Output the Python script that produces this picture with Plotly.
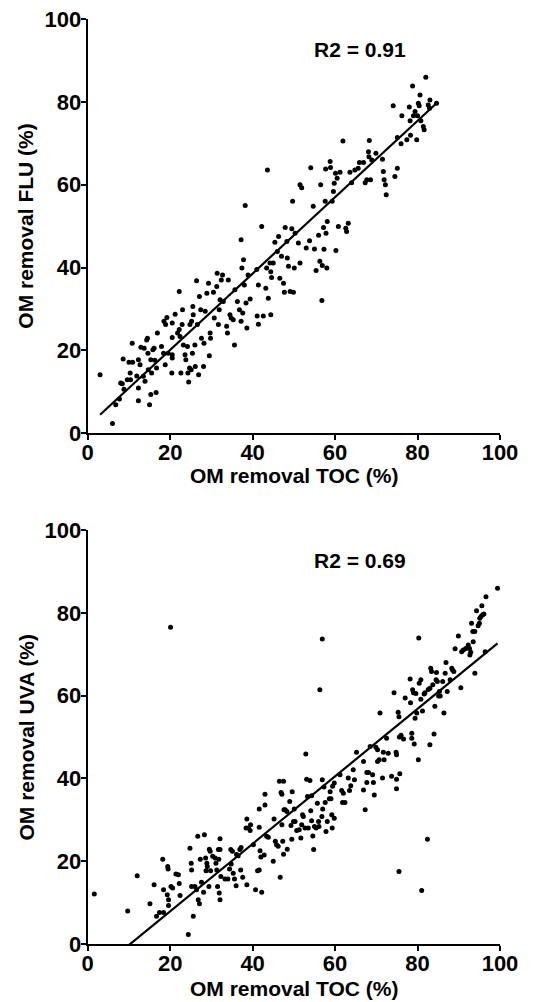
import plotly.graph_objects as go

# ---- Panel 1: TOC vs FLU ----
toc1 = [3.0,6.0,6.8,7.7,8.0,8.4,8.6,8.8,9.6,10.0,10.3,10.4,10.8,10.9,11.9,12.3,12.3,12.3,12.7,12.9,
        13.5,13.7,13.9,14.3,14.5,14.6,14.7,15.0,15.3,15.3,15.5,15.8,16.1,16.3,16.6,16.7,16.9,17.9,18.4,18.5,
        18.8,18.9,19.2,19.5,20.4,20.5,20.5,20.5,20.5,21.2,21.8,22.2,22.2,22.4,22.6,22.9,23.0,23.2,23.6,23.8,
        24.2,24.3,24.5,24.7,24.8,25.1,25.2,25.4,25.5,25.6,26.0,26.1,26.4,26.6,26.9,27.1,27.4,27.6,28.1,28.2,
        28.5,28.9,29.3,29.5,29.7,29.8,30.5,30.7,31.3,31.4,31.7,31.9,32.1,32.4,32.7,32.9,33.7,33.9,34.1,34.5,
        34.8,35.3,35.6,35.7,36.3,36.8,37.2,37.2,37.4,37.6,37.8,38.0,38.2,38.4,38.6,38.9,39.4,41.0,41.1,41.4,
        41.4,42.2,42.6,43.2,43.4,43.6,43.8,44.2,44.4,44.4,44.6,45.0,45.4,46.0,46.3,46.6,47.0,47.5,47.7,47.9,
        48.3,48.4,48.7,49.1,49.5,49.7,49.9,50.1,50.3,51.1,51.5,51.9,51.5,53.0,53.8,54.1,54.7,55.0,55.4,56.0,
        56.3,56.5,56.8,56.9,57.2,57.3,57.6,57.7,57.8,58.0,58.1,58.8,58.9,59.3,59.6,59.8,60.1,60.5,60.2,60.8,
        61.2,61.9,62.6,62.8,63.2,63.6,64.0,64.8,65.6,65.9,66.9,67.3,67.7,68.1,68.2,68.3,68.6,68.9,69.9,71.5,
        71.7,71.9,72.2,72.4,74.1,74.5,75.1,75.1,76.0,76.2,77.4,78.0,78.2,78.3,78.8,79.0,79.4,79.8,80.0,80.2,
        80.4,80.6,80.8,81.4,81.6,82.0,82.6,82.9,83.0,84.6]
flu1 = [14.1,2.3,6.8,8.2,12.1,11.9,17.9,10.6,12.9,17.1,14.5,12.9,21.7,17.1,13.8,10.9,7.8,17.7,16.5,20.7,
        13.7,20.5,12.5,22.5,22.9,19.3,15.3,6.8,9.3,17.7,14.5,20.1,20.5,17.6,9.8,15.7,24.2,20.9,19.3,27.0,
        16.5,26.2,27.9,19.3,14.5,23.1,26.6,18.1,18.9,28.7,24.2,34.2,25.0,23.3,14.5,26.2,29.8,21.3,18.9,17.7,
        20.9,14.5,12.3,15.7,26.2,15.3,27.0,19.3,30.6,28.6,21.3,16.1,36.8,26.2,14.1,33.0,29.8,22.9,16.1,21.7,
        29.4,33.8,36.2,18.7,24.2,22.9,34.0,27.8,35.4,38.6,26.2,29.8,32.2,37.0,38.2,31.8,25.8,24.2,37.0,28.6,
        27.8,27.4,21.3,34.6,31.8,29.8,27.0,46.7,39.9,29.0,41.9,35.8,55.0,31.4,25.4,38.2,32.4,39.5,28.3,26.3,
        35.8,49.9,28.3,35.0,39.9,63.6,32.6,41.1,39.0,28.6,37.6,41.1,46.1,43.9,47.5,37.4,42.7,36.2,34.0,49.7,
        46.3,42.3,40.3,34.2,49.4,56.0,34.0,39.9,48.3,45.9,60.0,59.3,41.1,44.7,46.5,64.1,54.8,44.5,39.3,47.8,
        41.5,60.0,32.0,40.5,49.7,44.4,56.0,63.8,48.3,39.9,51.1,65.6,64.2,56.0,58.4,60.4,62.8,61.6,44.1,49.9,
        63.0,70.6,49.5,48.7,50.7,63.0,60.5,63.6,64.0,65.4,65.4,60.5,61.2,68.0,66.8,70.7,61.2,66.0,67.6,66.2,
        63.2,61.2,60.0,57.6,79.1,62.0,64.0,71.4,69.9,76.7,70.9,78.8,75.5,72.0,83.9,76.7,77.7,70.9,76.7,79.7,
        79.1,81.7,75.5,74.1,73.3,86.0,79.3,78.5,80.5,79.7]
fit1 = {"slope": 0.923, "intercept": 1.63}
r2_label1 = "R2 = 0.91"

# ---- Panel 2: TOC vs UVA ----
toc2 = [1.6,9.7,12.0,15.1,16.1,16.7,17.4,18.4,18.2,18.4,19.3,19.4,19.5,19.6,19.6,20.1,20.2,20.6,21.4,22.0,
        22.4,22.2,24.4,24.8,25.1,25.2,25.2,25.6,26.0,26.4,26.7,26.8,27.1,27.3,27.6,28.1,28.3,28.6,28.7,28.9,
        29.0,29.4,29.5,29.7,29.8,30.3,30.9,31.1,31.3,31.5,31.7,32.1,31.8,31.9,32.1,32.1,32.3,33.3,34.0,34.4,
        34.7,35.1,34.8,35.3,35.6,36.0,36.1,36.5,36.9,37.2,37.1,37.6,38.4,38.6,38.6,39.0,39.4,39.5,40.2,40.7,
        41.2,41.6,41.6,41.6,41.8,42.0,42.2,42.8,43.0,43.0,43.4,43.8,45.0,45.2,45.5,45.8,46.2,46.5,47.5,46.7,
        46.9,47.1,47.1,47.3,47.5,47.6,47.9,48.3,48.4,49.0,49.3,49.5,49.6,49.9,50.3,50.1,50.7,51.3,51.7,51.9,
        52.3,52.1,52.7,52.9,53.1,53.3,53.5,53.9,54.1,54.3,54.3,54.6,54.8,55.0,55.4,55.7,56.0,56.1,56.3,56.8,
        56.9,56.9,57.0,57.3,57.6,57.8,58.1,58.6,59.0,58.8,59.2,59.3,59.4,59.8,59.8,61.2,61.6,61.8,62.4,62.0,
        63.2,63.5,63.8,64.4,64.7,65.2,66.9,66.9,67.3,67.7,68.1,67.7,68.5,69.1,69.3,69.5,69.9,70.3,70.3,70.7,
        70.9,71.5,71.7,71.9,72.5,72.9,73.7,74.3,74.8,74.9,74.9,74.9,75.3,75.5,75.5,75.6,75.7,76.0,76.6,77.0,
        78.2,78.3,78.6,78.6,78.8,79.0,79.2,79.4,79.6,79.8,80.2,80.3,80.4,80.8,80.8,81.0,81.2,81.6,81.8,82.4,
        82.6,83.0,83.0,83.2,83.4,83.7,84.0,84.2,84.5,84.8,84.6,85.1,85.5,85.3,86.1,86.4,86.7,86.9,87.2,87.9,
        88.3,88.5,88.8,89.1,89.9,90.5,90.7,91.1,91.7,92.3,92.6,92.7,92.9,93.1,93.4,93.5,93.9,93.9,94.3,94.7,
        95.0,95.1,95.4,95.6,95.8,96.1,96.4,96.6,99.4]
uva2 = [12.1,8.0,16.5,9.7,14.3,6.7,7.6,7.6,20.5,13.1,11.9,18.7,18.1,10.7,9.3,76.5,13.9,13.5,16.9,16.7,
        11.7,14.6,2.3,23.1,19.5,17.9,13.9,6.7,13.9,13.1,26.0,10.7,9.7,20.5,14.9,12.5,26.4,20.8,17.7,19.5,
        18.7,13.9,22.9,22.4,17.7,21.2,20.8,19.5,17.9,13.9,22.8,22.8,20.5,12.3,10.7,25.4,16.3,15.7,15.7,18.1,
        22.8,22.4,19.3,17.1,15.7,14.1,21.6,21.3,22.8,23.3,17.9,16.1,28.0,30.2,14.3,28.0,27.4,28.8,24.0,13.1,
        17.7,17.9,32.6,28.2,22.5,21.0,12.5,21.5,36.2,33.6,26.0,25.8,20.0,30.2,24.8,24.0,23.6,39.3,39.3,16.1,
        36.6,36.2,28.8,24.8,21.7,32.4,32.4,32.0,22.9,34.4,28.6,25.3,36.8,29.6,29.6,32.6,27.4,27.6,25.6,28.8,
        30.8,31.2,28.0,45.9,39.8,35.6,28.0,39.5,32.2,35.8,29.8,26.1,22.8,28.4,28.0,34.0,29.6,28.4,61.4,30.8,
        73.7,39.7,32.6,37.9,34.2,27.2,29.6,35.1,35.1,36.8,31.2,28.0,38.1,38.9,30.4,40.9,37.1,34.2,34.2,36.4,
        40.1,37.1,38.2,42.1,39.7,46.3,44.1,37.2,32.4,41.4,41.4,39.0,47.7,40.9,39.0,36.0,47.5,46.9,44.1,44.5,
        55.8,40.1,46.3,44.5,49.7,46.1,40.5,60.7,46.3,45.7,39.8,37.5,56.0,54.9,17.5,50.0,41.1,50.4,49.5,59.4,
        64.0,58.3,50.9,49.7,61.4,60.7,48.3,54.5,60.5,55.8,44.5,73.9,63.0,63.8,59.1,12.9,56.3,60.4,60.7,25.3,
        61.5,61.8,48.1,66.6,65.8,62.6,50.7,57.4,63.8,63.4,65.6,59.9,59.9,61.0,63.4,55.8,65.4,68.0,61.0,63.8,
        66.6,66.2,65.8,71.3,74.4,61.9,70.6,71.0,71.4,72.2,71.4,69.8,70.5,77.5,75.5,73.0,65.4,75.5,80.5,76.9,
        77.5,78.7,79.1,81.7,79.5,79.7,70.6,83.9,85.9]
fit2 = {"slope": 0.815, "intercept": -8.4}
r2_label2 = "R2 = 0.69"

x_title = "OM removal TOC (%)"
y_title1 = "OM removal FLU (%)"
y_title2 = "OM removal UVA (%)"

assert len(toc1) == len(flu1), (len(toc1), len(flu1))
assert len(toc2) == len(uva2), (len(toc2), len(uva2))

tick_vals = [0, 20, 40, 60, 80, 100]
FONT = "Arial, Liberation Sans, sans-serif"

# The page body has an 8px margin, so the figure is 8px smaller than the window.
W, H = 525, 994
OFF = 8

def px(xr):
    return (xr - OFF) / W

def py(yr):
    return (H - (yr - OFF)) / H

fig = go.Figure()

def add_panel(xs, ys, fit, xa, ya):
    fig.add_trace(go.Scatter(x=xs, y=ys, mode="markers", xaxis=xa, yaxis=ya,
                             marker=dict(color="black", size=5, line=dict(width=0)),
                             cliponaxis=False, showlegend=False))
    x0, x1 = min(xs), max(xs)
    fig.add_trace(go.Scatter(x=[x0, x1],
                             y=[fit["slope"] * x0 + fit["intercept"], fit["slope"] * x1 + fit["intercept"]],
                             mode="lines", xaxis=xa, yaxis=ya,
                             line=dict(color="black", width=2.2), showlegend=False))

add_panel(toc1, flu1, fit1, "x", "y")
add_panel(toc2, uva2, fit2, "x2", "y2")

def axis(domain, anchor, standoff):
    return dict(domain=domain, anchor=anchor, range=[0, 100], tickvals=tick_vals,
                ticks="outside", ticklen=5, tickwidth=2, tickcolor="black",
                showline=True, linecolor="black", linewidth=2, mirror=False,
                showgrid=False, zeroline=False, automargin=False,
                ticklabelstandoff=standoff, ticklabeloverflow="allow",
                tickfont=dict(family=FONT, size=22, color="black", weight="bold"))

xdom = [px(87.7), px(500)]
y1dom = [py(433), py(19.3)]
y2dom = [py(944), py(530)]

title_font = dict(family=FONT, size=21, color="black", weight="bold")
xc = px((87.7 + 500) / 2)

annotations = [
    dict(x=66, y=92.8, xref="x", yref="y", text=r2_label1, showarrow=False, font=title_font),
    dict(x=66, y=92.7, xref="x2", yref="y2", text=r2_label2, showarrow=False, font=title_font),
    dict(x=xc, y=py(475.5), xref="paper", yref="paper", text=x_title, showarrow=False,
         xanchor="center", yanchor="middle", font=title_font),
    dict(x=xc, y=py(988.5), xref="paper", yref="paper", text=x_title, showarrow=False,
         xanchor="center", yanchor="middle", font=title_font),
    dict(x=px(25.5), y=py((433 + 19.3) / 2), xref="paper", yref="paper", text=y_title1,
         showarrow=False, textangle=-90, xanchor="center", yanchor="middle", font=title_font),
    dict(x=px(25.5), y=py((944 + 530) / 2), xref="paper", yref="paper", text=y_title2,
         showarrow=False, textangle=-90, xanchor="center", yanchor="middle", font=title_font),
]

fig.update_layout(
    template="none",
    width=W, height=H,
    margin=dict(l=0, r=0, t=0, b=0, pad=0),
    paper_bgcolor="white", plot_bgcolor="white",
    showlegend=False,
    xaxis=axis(xdom, "y", -6),
    yaxis=axis(y1dom, "x", -5),
    xaxis2=axis(xdom, "y2", -6),
    yaxis2=axis(y2dom, "x2", -5),
    annotations=annotations,
)

fig.write_html("out.html")
